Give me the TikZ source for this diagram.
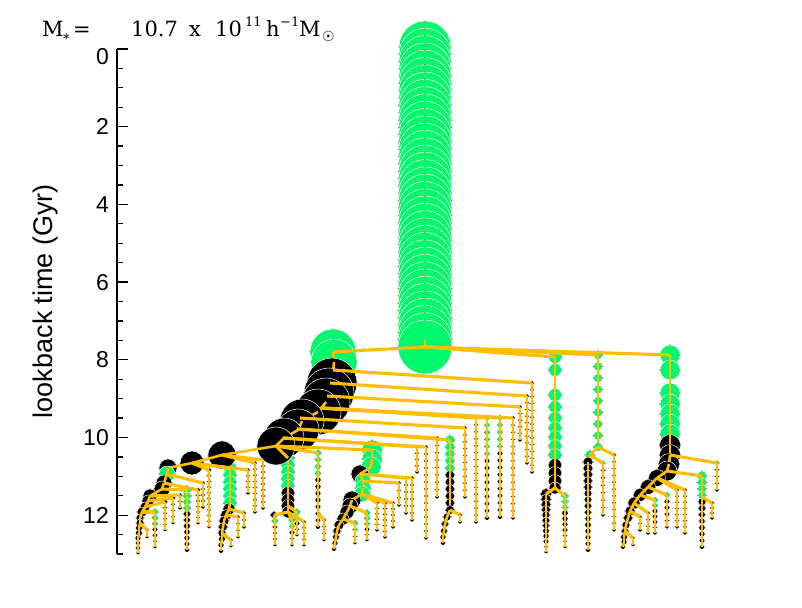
\documentclass[tikz,border=0pt]{standalone}
\usepackage{fontspec}
\setmainfont{Liberation Sans}
\newfontfamily\tfont{DejaVu Serif}
\newfontfamily\symfont{DejaVu Sans}
\definecolor{gg}{RGB}{0,248,108}
\definecolor{kk}{RGB}{0,0,0}
\definecolor{oo}{RGB}{255,190,0}
\definecolor{bb}{RGB}{150,60,30}
\tikzset{
  vline/.style={oo,line width=2.6pt},
  mline/.style={oo,line width=3.1pt},
  ttl/.style={anchor=base west,inner sep=0pt,font=\tfont\fontsize{21}{24}\selectfont},
  ttlsm/.style={anchor=base west,inner sep=0pt,font=\tfont\fontsize{13}{15}\selectfont},
  ticklab/.style={anchor=east,inner sep=0pt,font=\fontsize{23}{23}\selectfont},
  axisline/.style={black,line width=1.3pt}
}
% one galaxy: x, y, r, colour
\newcommand\galc[4]{%
  \fill[#4] (#1,#2) circle[radius=#3pt];
  \pgfmathtruncatemacro\bigc{#3>3}%
  \ifnum\bigc=1 \draw[white,line width=0.5pt] (#1,#2) circle[radius=#3pt];\fi
  \fill[bb] (#1-#3,#2) circle[radius=0.6pt] (#1+#3,#2) circle[radius=0.6pt] (#1,#2-#3) circle[radius=0.6pt];
}
% vertical branch: x, ytop, ybot, rtop, rbot, y where green ends, step
\newcommand\stem[7]{%
  \pgfmathtruncatemacro\nn{max(1,round((#3-#2)/#7))}%
  \foreach \i in {0,...,\nn}{%
    \pgfmathsetmacro\yy{#2+(#3-#2)*\i/\nn}%
    \pgfmathsetmacro\rr{#4+(#5-#4)*\i/\nn}%
    \pgfmathtruncatemacro\gq{\yy<#6}%
    \ifnum\gq=1 \def\cc{gg}\else\def\cc{kk}\fi
    \galc{#1}{\yy}{\rr}{\cc}
    \ifnum\i>0 \pgfmathsetmacro\yp{\yy-(#3-#2)/\nn}\draw[vline] (#1,\yy) -- (#1,\yp);\fi
  }}
% explicit chain of x/y/r/colour
\newcommand\chain[1]{%
  \gdef\px{-1}\gdef\py{-1}%
  \foreach \xa/\ya/\ra/\cl in {#1}{%
    \galc{\xa}{\ya}{\ra}{\cl}
    \ifdim\px pt>0pt \draw[vline] (\xa,\ya) -- (\px,\py);\fi
    \xdef\px{\xa}\xdef\py{\ya}%
  }}
\begin{document}
\begin{tikzpicture}[x=1pt,y=-1pt]
\fill[white] (0,0) rectangle (802,607);
\useasboundingbox (0,0) rectangle (802,607);

% ---------------- main progenitor column
\stem{425}{47}{347}{26}{27}{999}{7.3}

% ---------------- right branches
\chain{555/357/6.5/gg,555/370/6.5/gg,555/395/6.5/gg,555/407/6.5/gg,555/418/6.5/gg,555/428/6.5/gg,555/437/6.5/gg,555/446/6.5/gg,555/455/6.5/gg,555/465/6.5/kk,555/473/6.5/kk,555/481/6.5/kk,555/488/6/kk}
\stem{546}{494}{552}{5.5}{1.5}{0}{5.5}
\stem{565}{496}{547}{3.5}{1.5}{513}{6}

\stem{598}{355}{447}{4.5}{4.5}{999}{11.5}
\chain{598/447/4.5/gg,590/455/5/gg,588/462/5/kk}
\stem{588}{462}{550}{5}{2}{0}{6.3}
\stem{603}{463}{515}{2}{1.8}{468}{7}
\stem{614}{455}{530}{1.8}{1.8}{0}{7}

\stem{717}{463}{490}{2}{1.8}{466}{7}
\stem{702}{476}{547}{5}{2}{500}{6.5}
\stem{712}{503}{518}{1.8}{1.8}{0}{6}
\stem{685}{490}{533}{1.8}{1.8}{0}{6}
\stem{677}{490}{527}{1.8}{1.8}{0}{6}
\stem{667}{495}{527}{2.5}{1.8}{500}{6}
\stem{655}{500}{533}{2.5}{1.8}{506}{6}
\stem{648}{513}{533}{1.8}{1.8}{0}{6}
\stem{640}{517}{530}{1.8}{1.8}{0}{6}
\stem{633}{538}{545}{1.5}{1.5}{0}{6}
\chain{670/355/10/gg,670/370/10/gg,670/393/10/gg,670/404/10/gg,670/414/10/gg,670/424/10/gg,670/434/10/gg,670/445/10.5/kk,670/455/10.5/kk,669/464/10.5/kk,667/471/10/kk,657/478/8.5/kk,648/487/7.5/kk,640/495/6.5/kk,634/503/6/kk,630/511/5/kk,628/518/4.5/kk,626/525/4/kk,625/531/3.5/kk,624/537/3/kk,624/542/2.5/kk,623/547/2/kk}

% ---------------- middle columns (satellites of the left chain)
\stem{532}{383}{472}{1.8}{1.8}{0}{7}
\stem{527}{396}{463}{1.8}{1.8}{0}{7}
\stem{520}{407}{440}{1.8}{1.8}{0}{7}
\stem{513}{418}{518}{1.8}{1.8}{0}{7}
\stem{500}{418}{517}{2.5}{2}{450}{7}
\stem{487}{418}{518}{2.5}{2}{458}{7}
\stem{476}{418}{522}{1.8}{1.8}{0}{7}
\stem{465}{428}{497}{1.8}{1.8}{0}{7}
\stem{460}{515}{522}{1.8}{1.8}{0}{6}
\stem{450}{440}{510}{5}{4.5}{474}{7}
\chain{450/510/4.5/kk,447/517/4/kk,445/524/3.5/kk,444/531/3/kk,443/537/2.5/kk,443/543/2/kk}
\stem{437}{438}{497}{1.8}{1.8}{0}{7}
\stem{426}{447}{538}{1.8}{1.8}{0}{7}
\stem{417}{447}{472}{1.8}{1.8}{0}{7}
\stem{412}{478}{520}{1.8}{1.8}{0}{7}
\stem{406}{478}{513}{1.8}{1.8}{0}{7}
\stem{399}{483}{505}{1.8}{1.8}{0}{7}
\stem{393}{503}{527}{1.8}{1.8}{0}{6}
\stem{385}{503}{537}{2}{1.8}{0}{6}
\stem{377}{503}{530}{1.8}{1.8}{0}{6}
\stem{367}{513}{540}{3}{1.5}{528}{6}
\stem{355}{523}{543}{2.5}{1.5}{530}{6}
\chain{372/450/10/gg,372/459/10/gg,371/467/10/gg,360/474/9/kk,363/481/8/gg,363/488/8/gg,362/494/8/gg,352/500/9/kk,350/506/8/kk,347/512/7/kk,343/519/6/kk,339/525/5/kk,337/531/4/kk,336/537/3/kk,335/543/2.5/kk,334/549/2/kk}

\stem{318}{453}{527}{3}{2}{478}{7}
\stem{324}{520}{540}{1.8}{1.5}{0}{6}
\stem{304}{522}{545}{1.8}{1.5}{0}{6}
\stem{297}{512}{535}{3}{1.5}{520}{6}
\stem{292}{520}{545}{3}{1.5}{528}{6}
\chain{274/515/3.5/kk,275/521/3/gg,275/527/2/kk,275/533/1.8/kk,275/539/1.8/kk,275/545/1.5/kk}
\chain{288/458/6.7/gg,288/465/6.7/gg,288/472/6.7/gg,288/479/6.7/gg,288/486/6.7/gg,288/493/6.5/kk,288/500/6.5/kk,288/506/6.5/kk,288/512/6/kk}

% ---------------- lower left columns
\stem{263}{460}{508}{1.8}{1.8}{0}{6}
\stem{255}{463}{512}{1.8}{1.8}{0}{6}
\stem{248}{470}{493}{1.8}{1.8}{0}{6}
\stem{244}{513}{527}{1.8}{1.8}{0}{6}
\stem{238}{517}{537}{1.8}{1.5}{0}{6}
\stem{231}{540}{546}{1.5}{1.5}{0}{6}
\chain{230/468/6.5/gg,230/475/6.5/gg,230/482/6.5/gg,230/489/6.5/gg,230/496/6.5/gg,230/503/6.5/gg,229/509/6/kk,226/515/5.5/kk,224/521/5/kk,223/527/4.5/kk,222/533/4/kk,222/539/3/kk,221/545/2.5/kk,221/551/2/kk}
\stem{209}{470}{527}{2}{1.5}{0}{6}
\stem{203}{483}{507}{1.8}{1.8}{0}{6}
\stem{198}{490}{523}{2}{1.5}{0}{6}
\stem{187}{490}{550}{4.5}{2}{514}{6}
\stem{180}{495}{508}{1.8}{1.8}{0}{6}
\stem{173}{498}{523}{2}{1.5}{0}{6}
\stem{165}{502}{530}{2}{1.5}{0}{6}
\stem{155}{512}{547}{3}{1.5}{524}{6}
\stem{147}{530}{537}{1.5}{1.5}{0}{6}

% ---------------- the big left chain
\chain{333/352/23/gg,334/362/23/gg,332/383/25/kk,329/393/25/kk,326/402/24/kk,318/412/23/kk,302/421/22/kk,298/430/21/kk,284/438/20/kk,276/446/19/kk,222/455/14/kk,192/463/12/kk,168/468/9/kk,167/474/8/gg,164/483/8/kk,162/489/8/kk,150/496/7/kk,148/501/6/kk,145/507/5/kk,142/512/5/kk,140/518/4/kk,140/523/4/kk,139/528/3/kk,139/533/3/kk,138/538/2.5/kk,138/543/2/kk,138/548/2/kk,138/553/1.5/kk}

% ---------------- merger connectors
\draw[mline] (425,347) -- (333,352);
\draw[mline] (425,347) -- (555,357);
\draw[mline] (425,347) -- (598,355);
\draw[mline] (425,347) -- (670,355);
\draw[mline] (555,488) -- (546,494);
\draw[mline] (555,488) -- (565,496);
\draw[mline] (598,447) -- (614,455);
\draw[mline] (590,455) -- (603,463);
\draw[mline] (670,455) -- (717,463);
\draw[mline] (667,471) -- (702,476);
\draw[mline] (702,497) -- (712,503);
\draw[mline] (657,478) -- (685,490);
\draw[mline] (657,478) -- (677,490);
\draw[mline] (648,487) -- (667,495);
\draw[mline] (640,495) -- (655,500);
\draw[mline] (634,503) -- (648,513);
\draw[mline] (630,511) -- (640,517);
\draw[mline] (625,531) -- (633,538);

\draw[mline] (333,370) -- (532,383);
\draw[mline] (330,383) -- (527,396);
\draw[mline] (327,396) -- (520,407);
\draw[mline] (321,408) -- (513,418);
\draw[mline] (321,408) -- (500,418);
\draw[mline] (321,408) -- (487,418);
\draw[mline] (321,408) -- (476,418);
\draw[mline] (300,418) -- (465,428);
\draw[mline] (297,429) -- (437,438);
\draw[mline] (297,429) -- (450,440);
\draw[mline] (283,438) -- (426,447);
\draw[mline] (283,438) -- (417,447);
\draw[mline] (276,446) -- (372,450);
\draw[mline] (276,446) -- (318,453);
\draw[mline] (276,446) -- (288,458);
\draw[mline] (450,510) -- (460,515);

\draw[mline] (360,474) -- (412,478);
\draw[mline] (360,474) -- (406,478);
\draw[mline] (363,481) -- (399,483);
\draw[mline] (362,494) -- (377,503);
\draw[mline] (362,494) -- (385,503);
\draw[mline] (362,494) -- (393,503);
\draw[mline] (350,506) -- (367,513);
\draw[mline] (343,519) -- (355,523);
\draw[mline] (318,513) -- (324,520);
\draw[mline] (288,512) -- (274,515);
\draw[mline] (288,512) -- (292,520);
\draw[mline] (288,506) -- (297,512);
\draw[mline] (288,512) -- (304,522);

\draw[mline] (222,455) -- (263,460);
\draw[mline] (222,455) -- (255,463);
\draw[mline] (192,463) -- (248,470);
\draw[mline] (192,463) -- (230,468);
\draw[mline] (192,463) -- (209,470);
\draw[mline] (229,509) -- (244,513);
\draw[mline] (226,515) -- (238,517);
\draw[mline] (222,533) -- (231,540);
\draw[mline] (167,474) -- (203,483);
\draw[mline] (164,483) -- (198,490);
\draw[mline] (162,489) -- (187,490);
\draw[mline] (150,496) -- (180,495);
\draw[mline] (148,501) -- (173,498);
\draw[mline] (145,507) -- (165,502);
\draw[mline] (142,512) -- (155,512);
\draw[mline] (140,523) -- (147,530);

% ---------------- axis
\draw[axisline] (117,49) -- (117,554);
\foreach \t in {0,0.5,...,13} \draw[axisline] (117,{49+38.85*\t}) -- ++(6,0);
\foreach \t in {0,2,...,12} \draw[axisline] (117,{49+38.85*\t}) -- ++(11,0);
\node[ticklab] (l0) at (109,57) {0};
\node[ticklab] (l2) at (109,126.7) {2};
\node[ticklab] (l4) at (109,204.4) {4};
\node[ticklab] (l6) at (109,282.1) {6};
\node[ticklab] (l8) at (109,359.8) {8};
\node[ticklab] (l10) at (109,437.5) {10};
\node[ticklab] (l12) at (109,515.2) {12};
\node[rotate=90,inner sep=0pt,font=\fontsize{27}{27}\selectfont] (ylab) at (46,301) {lookback time (Gyr)};

% ---------------- title
\node[ttl] (tM) at (42,37) {M};
\node[ttlsm] (tst) at (63,44) {*};
\node[ttl] (teq) at (73,37) {=};
\node[ttl] (tnum) at (131,37) {10.7};
\node[ttl] (tx) at (189,37) {x};
\node[ttl] (tten) at (215,37) {10};
\node[ttlsm] (texp) at (245,27) {11};
\node[ttl] (th) at (266,37) {h};
\node[ttlsm] (thexp) at (280,27) {−1};
\node[ttl] (tM2) at (299,37) {M};
\node[anchor=base west,inner sep=0pt,font=\symfont\fontsize{14}{14}\selectfont] (tsun) at (322,42) {☉};
\end{tikzpicture}
\end{document}
